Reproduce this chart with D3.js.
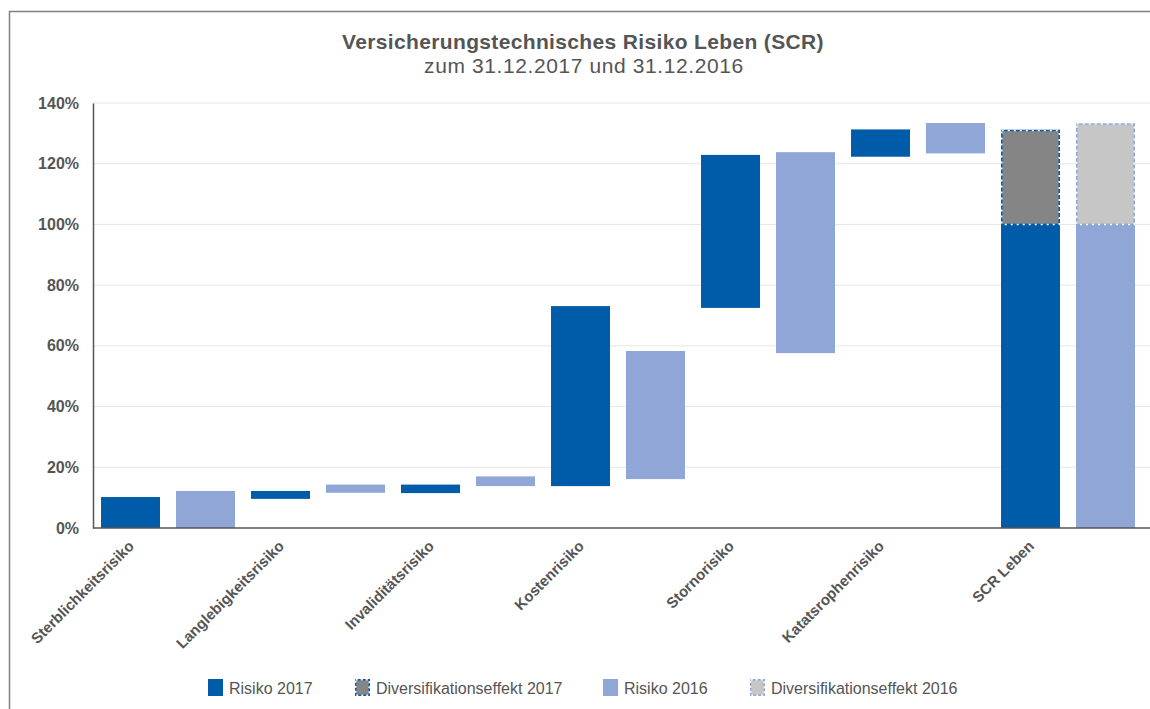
<!DOCTYPE html>
<html>
<head>
<meta charset="utf-8">
<script src="https://cdn.jsdelivr.net/npm/d3@7"></script>
<style>
  body { margin: 0; background: #fff; }
  svg { display: block; font-family: "Liberation Sans", Arial, sans-serif; }
</style>
</head>
<body>
<div id="chart"></div>
<script>
// chart values (percent of SCR)
const categories = ['Sterblichkeitsrisiko', 'Langlebigkeitsrisiko', 'Invaliditätsrisiko',
    'Kostenrisiko', 'Stornorisiko', 'Katatsrophenrisiko', 'SCR Leben'];
const years = ['2017', '2016'];
const riskLow2017  = [0, 9.6, 11.5, 13.8, 72.5, 122.3, 0];
const riskHigh2017 = [10.2, 12.2, 14.3, 73.1, 122.9, 131.3, 100];
const riskLow2016  = [0, 11.6, 13.8, 16.1, 57.6, 123.4, 0];
const riskHigh2016 = [12.2, 14.3, 17.0, 58.3, 123.8, 133.4, 100];
const divLow  = [100, 100];      // 2017, 2016
const divHigh = [131.2, 133.3];  // 2017, 2016
const yTicks = [0, 20, 40, 60, 80, 100, 120, 140];
const legendItems = ['Risiko 2017', 'Diversifikationseffekt 2017', 'Risiko 2016', 'Diversifikationseffekt 2016'];

const width = 1150, height = 709;
const margin = { top: 103, right: 7, bottom: 181, left: 93 };
const plotW = 1143 - margin.left;
const plotH = height - margin.top - margin.bottom;

const colors = {
    risk2017: '#005ca9',
    risk2016: '#8fa6d6',
    div2017: '#858585',
    div2016: '#c5c6c5'
};

const svg = d3.select('#chart').append('svg')
    .attr('width', width)
    .attr('height', height);

// outer frame (right and bottom edges run off the picture)
svg.append('rect')
    .attr('x', 9.5).attr('y', 11.5)
    .attr('width', 1160).attr('height', 720)
    .attr('fill', 'none')
    .attr('stroke', '#808080')
    .attr('stroke-width', 1.5);

// titles
svg.append('text')
    .attr('x', 583).attr('y', 49)
    .attr('text-anchor', 'middle')
    .attr('font-size', 21).attr('font-weight', 'bold')
    .attr('letter-spacing', 0.35)
    .attr('fill', '#555')
    .text('Versicherungstechnisches Risiko Leben (SCR)');
svg.append('text')
    .attr('x', 584).attr('y', 73)
    .attr('text-anchor', 'middle')
    .attr('font-size', 21)
    .attr('letter-spacing', 0.6)
    .attr('fill', '#555')
    .text('zum 31.12.2017 und 31.12.2016');

const plot = svg.append('g')
    .attr('transform', 'translate(' + margin.left + ',' + margin.top + ')');

const y = d3.scaleLinear().domain([0, 140]).range([plotH, 0]);
const x0 = d3.scaleBand().domain(categories).range([0, plotW]).padding(0);
const x1 = d3.scaleBand().domain(years).range([0, x0.bandwidth()])
    .paddingInner(0.213).paddingOuter(0.107);

// gridlines
plot.append('g').selectAll('line')
    .data(yTicks.slice(1))
    .join('line')
    .attr('x1', 0).attr('x2', width - margin.left)
    .attr('y1', d => y(d)).attr('y2', d => y(d))
    .attr('stroke', '#e6e6e6')
    .attr('stroke-width', 1);

// y axis
const yAxis = d3.axisLeft(y).tickValues(yTicks).tickSize(0).tickPadding(14)
    .tickFormat(d => d + '%');
const yG = plot.append('g').call(yAxis);
yG.select('.domain').attr('stroke', '#555').attr('stroke-width', 1.5);
yG.selectAll('text')
    .attr('font-size', 16).attr('font-weight', 'bold')
    .attr('fill', '#555')
    .attr('font-family', '"Liberation Sans", Arial, sans-serif');

// bars
const bars = [];
categories.forEach((c, i) => {
    bars.push({ cat: c, year: '2017', lo: riskLow2017[i], hi: riskHigh2017[i], color: colors.risk2017 });
    bars.push({ cat: c, year: '2016', lo: riskLow2016[i], hi: riskHigh2016[i], color: colors.risk2016 });
});

plot.append('g').selectAll('rect')
    .data(bars)
    .join('rect')
    .attr('x', d => x0(d.cat) + x1(d.year))
    .attr('width', x1.bandwidth())
    .attr('y', d => y(d.hi))
    .attr('height', d => y(d.lo) - y(d.hi))
    .attr('fill', d => d.color);

// diversification effect on the SCR bars
const lastCat = categories[categories.length - 1];
const divBars = years.map((yr, i) => ({
    year: yr, lo: divLow[i], hi: divHigh[i],
    fill: i === 0 ? colors.div2017 : colors.div2016,
    edge: i === 0 ? colors.risk2017 : colors.risk2016
}));

const divG = plot.append('g').selectAll('g')
    .data(divBars)
    .join('g');
divG.append('rect')
    .attr('x', d => x0(lastCat) + x1(d.year) + 0.75)
    .attr('width', x1.bandwidth() - 1.5)
    .attr('y', d => y(d.hi) + 0.75)
    .attr('height', d => y(d.lo) - y(d.hi) - 0.75)
    .attr('fill', d => d.fill)
    .attr('stroke', d => d.edge)
    .attr('stroke-width', 1.5);
divG.append('rect')
    .attr('x', d => x0(lastCat) + x1(d.year) + 0.75)
    .attr('width', x1.bandwidth() - 1.5)
    .attr('y', d => y(d.hi) + 0.75)
    .attr('height', d => y(d.lo) - y(d.hi) - 0.75)
    .attr('fill', 'none')
    .attr('stroke', '#fff')
    .attr('stroke-width', 1.5)
    .attr('stroke-dasharray', '2,4');

// x axis line
plot.append('line')
    .attr('x1', 0).attr('x2', width - margin.left)
    .attr('y1', plotH).attr('y2', plotH)
    .attr('stroke', '#555').attr('stroke-width', 1.5);

// rotated category labels
plot.append('g').selectAll('text')
    .data(categories)
    .join('text')
    .attr('transform', d => 'translate(' + (x0(d) + 42) + ',' + (plotH + 19) + ') rotate(-45)')
    .attr('text-anchor', 'end')
    .attr('font-size', 15).attr('font-weight', 'bold')
    .attr('fill', '#555')
    .text(d => d);

// legend
const legendX = [208, 355, 603, 750];
const legend = svg.append('g').attr('transform', 'translate(0,679)');
const swatches = [
    { fill: colors.risk2017, edge: null },
    { fill: colors.div2017, edge: colors.risk2017 },
    { fill: colors.risk2016, edge: null },
    { fill: colors.div2016, edge: colors.risk2016 }
];
legendItems.forEach((label, i) => {
    const g = legend.append('g').attr('transform', 'translate(' + legendX[i] + ',0)');
    const s = swatches[i];
    if (s.edge) {
        g.append('rect').attr('x', 0.75).attr('y', 0.75).attr('width', 13.5).attr('height', 15.5)
            .attr('fill', s.fill).attr('stroke', s.edge).attr('stroke-width', 1.5);
        g.append('rect').attr('x', 0.75).attr('y', 0.75).attr('width', 13.5).attr('height', 15.5)
            .attr('fill', 'none').attr('stroke', '#fff').attr('stroke-width', 1.5)
            .attr('stroke-dasharray', '2,3');
    } else {
        g.append('rect').attr('width', 15).attr('height', 17).attr('fill', s.fill);
    }
    g.append('text')
        .attr('x', 21).attr('y', 14.5)
        .attr('font-size', 16)
        .attr('fill', '#555')
        .text(label);
});
</script>
</body>
</html>
